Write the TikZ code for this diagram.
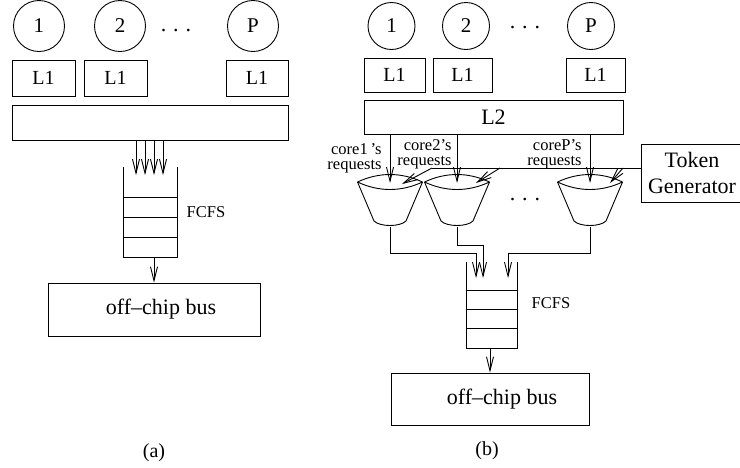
\documentclass[tikz,border=0pt]{standalone}
\usepackage{fontspec}
\setmainfont{Liberation Serif}
\usetikzlibrary{arrows.meta}
\tikzset{
  box/.style={draw, rectangle, inner sep=0pt},
  qnode/.style={inner sep=0pt},
  core/.style={draw, circle, inner sep=0pt, font=\fontsize{21}{24}\selectfont},
  arr/.style={-{Straight Barb[length=14pt,width=7pt]}},
  lbl/.style={font=\fontsize{16.5}{15}\selectfont, align=right, inner sep=0pt},
  big/.style={font=\fontsize{22}{26}\selectfont},
  mid/.style={font=\fontsize{20}{24}\selectfont},
  bucket/.pic={
    \draw (-32.5,0) .. controls (-11,-10) and (11,-10) .. (32.5,0);
    \draw (-32.5,0) .. controls (-11,10) and (11,10) .. (32.5,0);
    \draw (-32.5,0) -- (-16,39) .. controls (-10,45) and (10,45) .. (16,39) -- (32.5,0);
    \coordinate (-top) at (0,1);
    \coordinate (-bot) at (0,44.5);
  }
}
\begin{document}
\begin{tikzpicture}[x=1pt,y=-1pt,line width=0.9pt]
\useasboundingbox (0,0) rectangle (740,467);
\clip (0,0) rectangle (740,467);
% ---------------- (a) ----------------
\node[core, minimum size=51pt] (a1) at (39,26) {1};
\node[core, minimum size=51pt] (a2) at (120,26) {2};
\node[core, minimum size=51pt] (aP) at (253,26) {P};
\node[big] (adots) at (176,31) {.\hspace{7pt}.\hspace{7pt}.};
\node[box, mid, minimum width=63pt, minimum height=36pt] (al1) at (43.5,78) {L1};
\node[box, mid, minimum width=63pt, minimum height=36pt] (al2) at (115.5,78) {L1};
\node[box, mid, minimum width=62pt, minimum height=36pt] (alP) at (257,78) {L1};
\node[box, minimum width=276pt, minimum height=35pt] (ash) at (150,122.5) {};
\node[qnode, minimum width=53pt, minimum height=90pt] (qa) at (150.5,212) {};
\draw (qa.north west) -- (qa.south west) -- (qa.south east) -- (qa.north east);
\draw ([yshift=20pt]qa.south west) -- ([yshift=20pt]qa.south east);
\draw ([yshift=40pt]qa.south west) -- ([yshift=40pt]qa.south east);
\draw ([yshift=60pt]qa.south west) -- ([yshift=60pt]qa.south east);
\coordinate (ain1) at (136,175);
\coordinate (ain2) at (145,175);
\coordinate (ain3) at (154,175);
\coordinate (ain4) at (163,175);
\draw[arr] (ash.south -| ain1) -- (ain1);
\draw[arr] (ash.south -| ain2) -- (ain2);
\draw[arr] (ash.south -| ain3) -- (ain3);
\draw[arr] (ash.south -| ain4) -- (ain4);
\node[lbl] (fa) at (206,212) {FCFS};
\node[box, big, minimum width=212pt, minimum height=53pt] (busa) at (154,309.5) {\hspace{14pt}off--chip bus};
\draw[arr] (qa.south -| busa.north) -- (busa.north);
\node[mid] (capa) at (154,453) {(a)};
% ---------------- (b) ----------------
\node[core, minimum size=47pt] (b1) at (391.5,26) {1};
\node[core, minimum size=47pt] (b2) at (466,26) {2};
\node[core, minimum size=47pt] (bP) at (591,26) {P};
\node[big] (bdots) at (525,28) {.\hspace{7pt}.\hspace{7pt}.};
\node[box, mid, minimum width=61pt, minimum height=34pt] (bl1) at (394.5,75) {L1};
\node[box, mid, minimum width=59pt, minimum height=34pt] (bl2) at (462.5,75) {L1};
\node[box, mid, minimum width=59pt, minimum height=34pt] (blP) at (595.5,75) {L1};
\node[box, big, minimum width=259pt, minimum height=34pt] (L2) at (493.5,117) {L2};
\pic (bk1) at (390,182) {bucket};
\pic (bk2) at (457,182) {bucket};
\pic (bkP) at (590,182) {bucket};
\node[big] (mdots) at (525,200) {.\hspace{7pt}.\hspace{7pt}.};
\draw[arr] (L2.south -| bk1-top) -- (bk1-top);
\draw[arr] (L2.south -| bk2-top) -- (bk2-top);
\draw[arr] (L2.south -| bkP-top) -- (bkP-top);
\node[lbl, anchor=east] (r1) at (382,158.5) {core1\,’s\\requests};
\node[lbl, anchor=east] (r2) at (452,154.5) {core2’s\\requests};
\node[lbl, anchor=east] (rP) at (582,154) {coreP’s\\requests};
\node[box, big, align=center, minimum width=102pt, minimum height=58pt] (tok) at (692,173) {Token\\Generator};
\coordinate (tk) at ([yshift=5pt]tok.west);
\coordinate (t1) at (432,168);
\coordinate (t2) at (500,168);
\coordinate (tP) at (623,168);
\coordinate (e1) at (402,184);
\coordinate (e2) at (476,183);
\coordinate (eP) at (610,183);
\draw (tk) -- (t1);
\draw[arr] (t1) -- (e1);
\draw[arr] (t2) -- (e2);
\draw[arr] (tP) -- (eP);
\node[qnode, minimum width=50pt, minimum height=86pt] (qb) at (492,305) {};
\draw (qb.north west) -- (qb.south west) -- (qb.south east) -- (qb.north east);
\draw ([yshift=20pt]qb.south west) -- ([yshift=20pt]qb.south east);
\draw ([yshift=39pt]qb.south west) -- ([yshift=39pt]qb.south east);
\draw ([yshift=58pt]qb.south west) -- ([yshift=58pt]qb.south east);
\coordinate (q1) at (476,278);
\coordinate (q2) at (483,278);
\coordinate (q3) at (508,278);
\draw[arr] (bk1-bot) |- ([yshift=25pt]q1) -- (q1);
\draw[arr] (bk2-bot) |- ([yshift=33pt]q2) -- (q2);
\draw[arr] (bkP-bot) |- ([yshift=25pt]q3) -- (q3);
\node[lbl] (fb) at (551,303) {FCFS};
\node[box, big, minimum width=198pt, minimum height=52pt] (busb) at (490,399) {\hspace{24pt}off--chip bus};
\draw[arr] (qb.south -| busb.north) -- (busb.north);
\node[mid] (capb) at (487,451) {(b)};
\end{tikzpicture}
\end{document}
